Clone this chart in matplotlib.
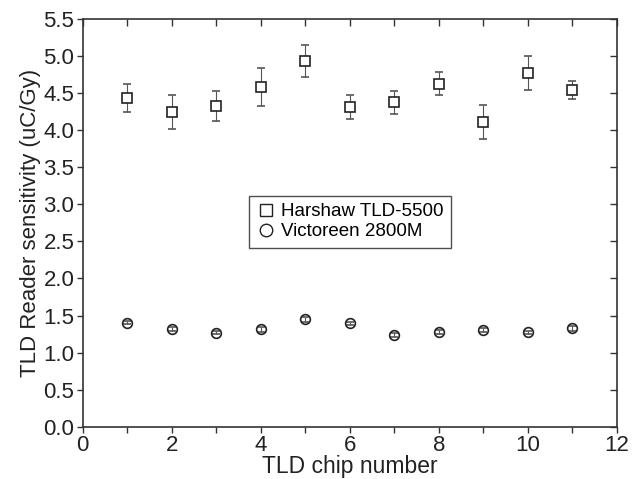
import matplotlib
matplotlib.use("Agg")
import matplotlib.pyplot as plt
from matplotlib.lines import Line2D
from matplotlib.ticker import MultipleLocator

plt.rcParams['font.family'] = ['Liberation Sans', 'DejaVu Sans']

chips = [1, 2, 3, 4, 5, 6, 7, 8, 9, 10, 11]
harshaw = [4.43, 4.245, 4.33, 4.58, 4.93, 4.31, 4.375, 4.63, 4.105, 4.775, 4.54]
harshaw_err = [0.19, 0.23, 0.20, 0.26, 0.215, 0.165, 0.155, 0.16, 0.23, 0.23, 0.12]
victoreen = [1.40, 1.318, 1.268, 1.313, 1.449, 1.395, 1.237, 1.277, 1.304, 1.277, 1.327]
victoreen_err = [0.02, 0.03, 0.02, 0.03, 0.03, 0.02, 0.03, 0.03, 0.03, 0.02, 0.03]

fig = plt.figure(figsize=(6.39, 4.79), dpi=100)
ax = fig.add_axes([0.1294, 0.1092, 0.8357, 0.8511])

ebar = dict(ecolor='#555555', elinewidth=0.8, capsize=3, capthick=0.8, linestyle='none')
ax.errorbar(chips, harshaw, yerr=harshaw_err, marker='s', ms=6.5, mfc='white',
            mec='#222222', mew=1.2, **ebar)
ax.errorbar(chips, victoreen, yerr=victoreen_err, marker='o', ms=7, mfc='none',
            mec='#222222', mew=1.2, **ebar)

ax.set_xlim(0, 12)
ax.set_ylim(0, 5.5)
ax.xaxis.set_major_locator(MultipleLocator(2))
ax.xaxis.set_minor_locator(MultipleLocator(1))
ax.yaxis.set_major_locator(MultipleLocator(0.5))
ax.yaxis.set_major_formatter(plt.FormatStrFormatter('%.1f'))

for s in ax.spines.values():
    s.set_color('#333333')
    s.set_linewidth(1.2)

ax.tick_params(axis='both', which='both', direction='out', length=4, width=1,
               color='#333333', labelsize=16, labelcolor='#222222', pad=2)
# inward ticks on top/right
axt = ax.secondary_xaxis('top')
axt.xaxis.set_major_locator(MultipleLocator(1))
axt.tick_params(direction='in', length=5, width=1, color='#333333', labeltop=False)
axr = ax.secondary_yaxis('right')
axr.yaxis.set_major_locator(MultipleLocator(0.5))
axr.tick_params(direction='in', length=5, width=1, color='#333333', labelright=False)
for a in (axt, axr):
    for s in a.spines.values():
        s.set_visible(False)

ax.set_xlabel('TLD chip number', fontsize=16.5, color='#222222', labelpad=-1)
ax.set_ylabel('TLD Reader sensitivity (uC/Gy)', fontsize=16, color='#222222', labelpad=2)

handles = [
    Line2D([], [], marker='s', ms=9, mfc='white', mec='#222222', mew=1.0, ls='none'),
    Line2D([], [], marker='o', ms=9, mfc='white', mec='#222222', mew=1.0, ls='none'),
]
leg = ax.legend(handles, ['Harshaw TLD-5500', 'Victoreen 2800M'],
                loc='center', bbox_to_anchor=(0.5, 0.503), fontsize=13.5,
                frameon=True, fancybox=False, borderpad=0.4, handletextpad=0.3,
                handlelength=1.0, labelspacing=0.15, borderaxespad=0)
leg.get_frame().set_edgecolor('#222222')
leg.get_frame().set_linewidth(1.0)

fig.savefig('out.png', dpi=100)
